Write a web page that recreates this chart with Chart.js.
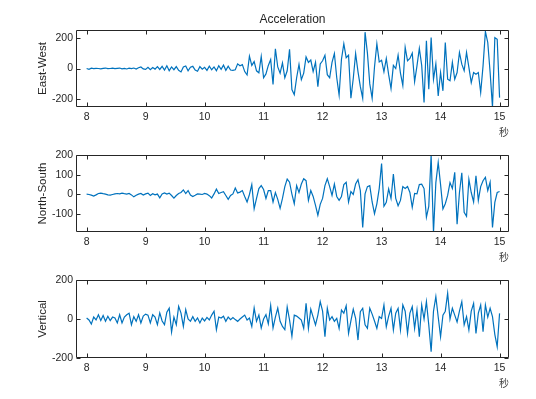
<!DOCTYPE html>
<html><head><meta charset="utf-8">
<script src="https://cdn.jsdelivr.net/npm/chart.js@4/dist/chart.umd.min.js"></script>
<style>
html,body{margin:0;padding:0;background:#fff;}
#wrap{position:relative;width:536px;height:399px;overflow:hidden;background:#fff;}
canvas{position:absolute;left:0;top:0;}
</style></head><body>
<div id="wrap">
<canvas id="c1" width="536" height="399"></canvas>
<canvas id="c2" width="536" height="399"></canvas>
<canvas id="c3" width="536" height="399"></canvas>
</div>
<script>
// sampling grid (seconds)
const startTime = 8.0;
const sampleStep = 0.04;
const xTicks = [8, 9, 10, 11, 12, 13, 14, 15];
const ewTicks = [-200, 0, 200];
const nsTicks = [-100, 0, 100, 200];
const vTicks = [-200, 0, 200];
const chartTitle = 'Acceleration';
const ewLabel = 'East-West';
const nsLabel = 'North-South';
const vLabel = 'Vertical';
const xUnit = '秒';

const eastWest = [
  0,-5,2,-1,1,0,-2,1,3,-1,0,2,-1,1,3,-2,1,-3,2,-1,3,-4,5,10,-3,
  -6,8,-8,6,-4,12,-6,14,-10,18,-14,10,-8,12,-12,-22,10,16,-15,8,14,-10,-18,12,-5,
  8,-12,15,-8,10,-14,18,-5,22,-12,15,-10,-12,-8,30,18,25,-20,-42,80,20,45,-15,-28,78,
  -60,-35,20,58,-104,128,10,-30,37,-60,-15,124,-137,-170,-60,26,-72,-30,75,40,55,-20,40,-118,30,
  50,86,-40,-60,40,97,-60,-172,60,161,70,86,-193,-65,97,-20,-118,-193,236,100,-100,-193,10,161,43,
  54,-22,65,-40,-130,20,0,86,-30,-110,137,50,65,100,-85,17,130,20,-221,180,-135,201,-70,30,-178,
  -26,-145,169,-70,-80,40,-70,-26,104,28,-15,104,7,-91,-26,-37,-26,-156,17,240,169,-26,-250,200,190,-189
];
const northSouth = [
  2,0,-3,-8,-2,5,7,4,2,-2,-3,0,3,5,3,7,4,2,5,-2,-12,-4,2,5,-3,
  3,7,-5,4,-2,2,-17,3,8,2,7,-5,-18,-5,5,10,23,5,20,-3,-10,-4,3,2,0,
  5,2,-6,-18,3,27,5,10,14,-5,-25,-5,3,33,8,12,20,-10,-38,0,50,-72,-20,30,45,
  25,-20,20,20,-38,10,-25,-70,-20,40,78,62,2,-47,45,10,53,80,70,-30,20,-10,-55,-105,-50,
  -20,45,80,40,-5,53,-10,-30,-10,50,62,-38,15,0,53,75,20,-167,3,40,45,-38,-97,-47,30,
  157,-60,-40,28,-20,103,-20,-57,-30,40,30,40,10,-65,5,3,50,52,30,-115,-60,200,-193,60,162,
  50,-73,-47,-5,60,30,112,-150,10,110,-90,-110,77,10,-38,95,-30,40,70,87,20,62,-167,-40,10,15
];
const vertical = [
  5,-5,-26,10,-5,22,-8,18,-12,14,-8,10,5,-20,22,-20,10,22,30,-29,12,-12,22,-20,15,
  25,20,-20,22,10,-29,31,-10,-29,35,56,-67,10,-29,65,30,-38,48,0,-12,12,-12,5,-20,5,
  -10,8,-5,20,40,-55,10,5,14,-12,10,-3,8,-3,-12,0,10,20,-5,5,-38,56,-12,20,-46,
  0,22,-25,70,-46,10,56,-12,-38,-55,62,-5,-89,20,15,5,-5,-48,80,-48,50,10,-30,20,89,
  40,-91,55,-5,12,-12,3,-48,46,30,68,-74,-10,50,3,-108,38,55,-30,-48,55,25,-10,-48,12,
  3,72,-40,15,55,-56,30,55,-56,72,40,-74,30,63,-48,46,-91,72,0,89,-30,-168,40,115,10,
  -91,20,40,132,0,55,20,-15,40,89,-30,12,-56,40,80,-74,30,72,-65,72,10,55,12,-80,-142,29
];

const FONT = '"Liberation Sans", Arial, Helvetica, sans-serif';
const CJK = '"Noto Sans CJK SC", "Noto Sans CJK JP", sans-serif';
const AXIS = '#262626';

const boxTicks = {
  id: 'boxTicks',
  afterDatasetsDraw(chart, args, opts) {
    const {ctx, chartArea: a, scales: {x, y}} = chart;
    const L = Math.round(a.left) + 0.5, R = Math.round(a.right) - 0.5;
    const T = Math.round(a.top) + 0.5, B = Math.round(a.bottom) - 0.5;
    ctx.save();
    ctx.strokeStyle = AXIS;
    ctx.lineWidth = 1;
    ctx.beginPath();
    ctx.rect(L, T, R - L, B - T);
    x.ticks.forEach(t => {
      const px = Math.round(x.getPixelForValue(t.value)) + 0.5;
      ctx.moveTo(px, B); ctx.lineTo(px, B - 4);
      ctx.moveTo(px, T); ctx.lineTo(px, T + 4);
    });
    y.ticks.forEach(t => {
      const py = Math.round(y.getPixelForValue(t.value)) + 0.5;
      ctx.moveTo(L, py); ctx.lineTo(L + 4, py);
      ctx.moveTo(R, py); ctx.lineTo(R - 4, py);
    });
    ctx.stroke();
    if (opts && opts.title) {
      ctx.fillStyle = AXIS;
      ctx.font = '12px ' + FONT;
      ctx.textAlign = 'center';
      ctx.textBaseline = 'middle';
      ctx.fillText(opts.title, (a.left + a.right) / 2, 20);
    }
    ctx.restore();
  }
};

function makeChart(id, values, yMin, yMax, yTickVals, yLabel, padTop, padBottom, title) {
  const points = values.map((v, i) => ({x: +(startTime + i * sampleStep).toFixed(2), y: v}));
  return new Chart(document.getElementById(id), {
    type: 'line',
    data: {datasets: [{data: points, borderColor: '#0072BD', borderWidth: 1.2, pointRadius: 0, tension: 0, fill: false}]},
    options: {
      responsive: false, animation: false, devicePixelRatio: 1,
      layout: {padding: {left: 0, right: 27, top: padTop, bottom: padBottom}},
      plugins: {legend: {display: false}, tooltip: {enabled: false}, boxTicks: {title: title}},
      scales: {
        x: {
          type: 'linear', position: 'bottom', min: 7.82, max: 15.16,
          afterBuildTicks: s => { s.ticks = xTicks.map(v => ({value: v})); },
          afterFit: s => { s.height = 30; },
          grid: {display: false, drawTicks: false}, border: {display: false},
          ticks: {color: AXIS, font: {family: FONT, size: 10.5}, padding: 4, maxRotation: 0, autoSkip: false},
          title: {display: true, text: xUnit, align: 'end', color: '#404040', font: {family: CJK, size: 10}, padding: {top: 0, bottom: -1}}
        },
        y: {
          type: 'linear', min: yMin, max: yMax,
          afterBuildTicks: s => { s.ticks = yTickVals.map(v => ({value: v})); },
          afterFit: s => { s.width = 76; },
          grid: {display: false, drawTicks: false}, border: {display: false},
          ticks: {color: AXIS, font: {family: FONT, size: 10.5}, padding: 3, autoSkip: false},
          title: {display: true, text: yLabel, color: AXIS, font: {family: FONT, size: 11.5}, padding: {top: 36, bottom: 0}}
        }
      }
    },
    plugins: [boxTicks]
  });
}

makeChart('c1', eastWest, -250, 250, ewTicks, ewLabel, 30, 262, chartTitle);
makeChart('c2', northSouth, -190, 200, nsTicks, nsLabel, 155, 137, null);
makeChart('c3', vertical, -200, 200, vTicks, vLabel, 280, 11, null);
</script>
</body></html>
